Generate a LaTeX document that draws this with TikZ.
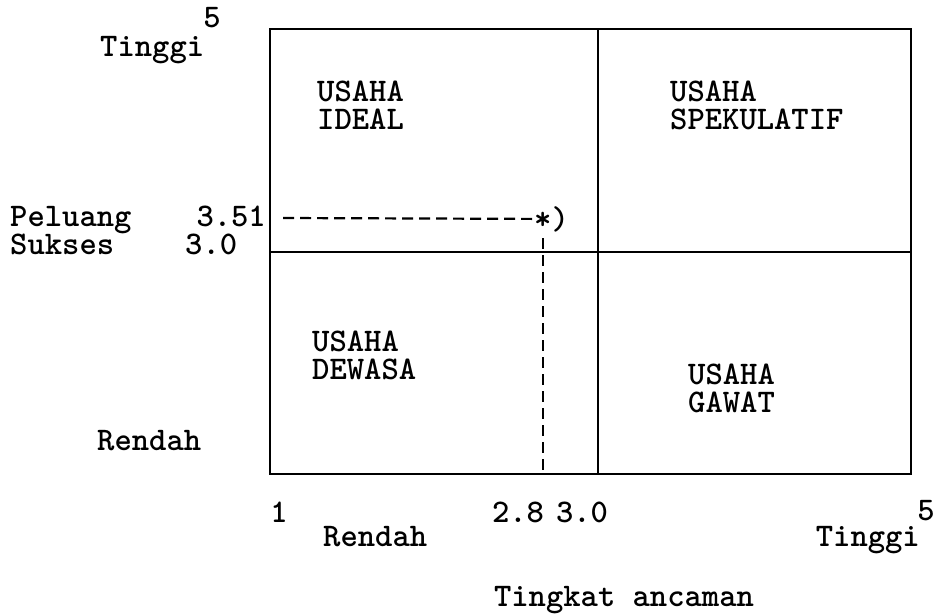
\documentclass[tikz,border=0pt]{standalone}
\usepackage{fontspec}
\begin{document}
\begin{tikzpicture}[x=1pt,y=-1pt,
  lbl/.style={font=\fontsize{33}{28}\selectfont\ttfamily\bfseries, inner sep=0pt},
  quad/.style={lbl, align=left, anchor=north west},
  frame/.style={line width=2.5pt},
  guide/.style={line width=2.2pt, dash pattern=on 11pt off 6pt}]
\useasboundingbox (0,0) rectangle (939,614);
% frame and dividers
\draw[frame] (270,29) rectangle (911,474);
\draw[frame] (598,29) -- (598,474);
\draw[frame] (270,252) -- (911,252);
% left axis labels
\node[lbl, anchor=base] (ytop) at (212,27) {5};
\node[lbl, anchor=base west] (yhigh) at (100,56) {Tinggi};
\node[lbl, anchor=base west] (peluang) at (10,226) {Peluang};
\node[lbl, anchor=base east] (v351) at (266,226) {3.51};
\node[lbl, anchor=base west] (sukses) at (10,254) {Sukses};
\node[lbl, anchor=base west] (v30) at (185,254) {3.0};
\node[lbl, anchor=base west] (ylow) at (97,450) {Rendah};
% quadrant labels
\node[quad] (ideal) at (317,81) {USAHA\\IDEAL};
\node[quad] (spek) at (670,81) {USAHA\\SPEKULATIF};
\node[quad] (dewasa) at (312,331) {USAHA\\DEWASA};
\node[quad] (gawat) at (688,364) {USAHA\\GAWAT};
% point
\node[lbl, anchor=base west] (pt) at (534,229) {*)};
\coordinate (hstart) at (283,218);
\coordinate (vtop) at (543,238);
\coordinate (vbot) at (543,470);
\draw[guide] (hstart) -- (pt.west);
\draw[guide] (vtop) -- (vbot);
% bottom axis labels
\node[lbl, anchor=base] (x1) at (279,522) {1};
\node[lbl, anchor=base] (x28) at (518,522) {2.8};
\node[lbl, anchor=base] (x30) at (582,522) {3.0};
\node[lbl, anchor=base] (x5) at (926,520) {5};
\node[lbl, anchor=base west] (xlow) at (323,546) {Rendah};
\node[lbl, anchor=base east] (xhigh) at (920,546) {Tinggi};
\node[lbl, anchor=base] (xtitle) at (624,606) {Tingkat ancaman};
\end{tikzpicture}
\end{document}
